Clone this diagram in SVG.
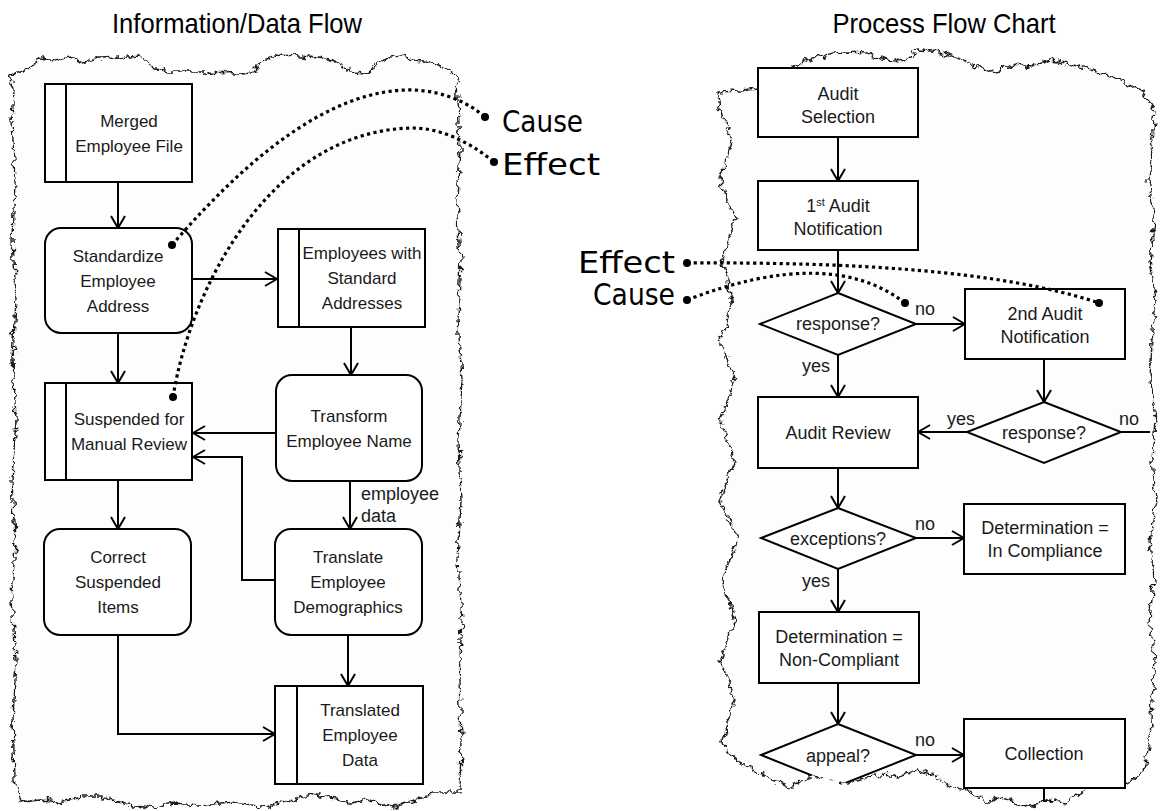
<svg xmlns="http://www.w3.org/2000/svg" width="1161" height="811" viewBox="0 0 1161 811">
  <defs>
    <style>
      .title { font-family: "Liberation Sans Narrow", "Liberation Sans", Arial, sans-serif; font-size: 28px; fill: #000; text-anchor: middle; }
      .box { fill: #fff; stroke: #000; stroke-width: 2; }
      .stripe { stroke: #000; stroke-width: 2; }
      .t { font-family: "Liberation Sans", Arial, sans-serif; font-size: 17px; fill: #1a1a1a; text-anchor: middle; }
      .tr { font-family: "Liberation Sans", Arial, sans-serif; font-size: 18px; fill: #1a1a1a; text-anchor: middle; }
      .lbl { font-family: "Liberation Sans", Arial, sans-serif; font-size: 18px; fill: #1a1a1a; }
      .conn { fill: none; stroke: #000; stroke-width: 2; }
      .edge { fill: #fdfdfd; stroke: #1a1a1a; stroke-width: 1.4; stroke-linejoin: round; }
      .dots { fill: none; stroke: #000; stroke-width: 3.2; stroke-dasharray: 3.2 3.4; }
      .pin { fill: #000; }
      .hand { font-family: "DejaVu Sans", sans-serif; font-size: 30px; fill: #000; }
    </style>
    <marker id="arrow" markerUnits="userSpaceOnUse" markerWidth="14" markerHeight="16" viewBox="0 0 14 16" refX="13" refY="8" orient="auto">
      <path d="M1,1 L13,8 L1,15" fill="none" stroke="#000" stroke-width="2"/>
    </marker>
    <filter id="torn" x="-5%" y="-5%" width="110%" height="110%">
      <feTurbulence type="fractalNoise" baseFrequency="0.13" numOctaves="3" seed="11" result="noise"/>
      <feDisplacementMap in="SourceGraphic" in2="noise" scale="10" xChannelSelector="R" yChannelSelector="G"/>
    </filter>
    <clipPath id="right-clip">
      <path d="M718,92 L757,89 L763,80 L777,75 L797,67 L807,60 L820,57 L833,53 L847,52 L867,53 L880,58 L893,62 L907,57 L920,50 L940,52 L960,58 L977,67 L990,72 L1000,70 L1013,65 L1033,67 L1050,60 L1067,63 L1083,67 L1100,73 L1120,80 L1133,87 L1143,90 L1147,100 L1157,110 L1160,811 L1067,803 L1047,800 L1027,807 L1000,797 L987,803 L967,790 L953,787 L933,775 L917,770 L900,777 L883,775 L867,777 L847,783 L833,780 L813,775 L800,782 L790,787 L767,778 L753,770 L740,763 L727,753 L700,700 Z"/>
    </clipPath>
  </defs>

  <!-- headings -->
  <text class="title" x="237" y="33" textLength="250" lengthAdjust="spacingAndGlyphs">Information/Data Flow</text>
  <text class="title" x="944" y="33" textLength="223" lengthAdjust="spacingAndGlyphs">Process Flow Chart</text>

  <!-- torn paper panels -->
  <g id="panel-left">
    <path class="edge" filter="url(#torn)" d="M10,75 L22,73 L28,70 L33,62 L40,58 L55,60 L70,57 L85,63 L100,58 L120,57 L140,55 L147,60 L152,68 L160,70 L170,72 L200,72 L240,73 L252,72 L258,66 L265,60 L275,55 L300,56 L320,58 L335,62 L345,68 L352,72 L365,73 L372,70 L378,62 L390,58 L400,57 L415,60 L430,62 L445,68 L457,75 L458,100 L460,150 L457,200 L461,260 L458,320 L462,380 L459,440 L461,500 L458,560 L462,620 L459,680 L461,740 L460,793 L433,793 L417,800 L393,807 L367,800 L350,803 L327,797 L310,793 L293,800 L267,807 L233,802 L200,805 L173,803 L150,808 L127,805 L100,797 L83,797 L60,802 L40,800 L20,802 L15,780 L13,720 L16,660 L12,600 L15,540 L12,480 L16,420 L13,360 L16,300 L13,240 L15,180 L12,120 L14,90 Z"/>
  </g>
  <g id="panel-right">
    <path class="edge" filter="url(#torn)" d="M718,92 L740,91 L757,89 L763,80 L777,75 L797,67 L807,60 L820,57 L833,53 L847,52 L867,53 L880,58 L893,62 L907,57 L920,50 L940,52 L960,58 L977,67 L990,72 L1000,70 L1013,65 L1033,67 L1050,60 L1067,63 L1083,67 L1100,73 L1120,80 L1133,87 L1143,90 L1147,100 L1155,110 L1152,140 L1148,180 L1155,220 L1150,260 L1156,300 L1152,340 L1150,380 L1155,420 L1152,460 L1156,500 L1150,540 L1154,580 L1150,620 L1155,660 L1152,700 L1150,740 L1143,773 L1127,783 L1100,787 L1083,790 L1067,803 L1047,800 L1027,807 L1000,797 L987,803 L967,790 L953,787 L933,775 L917,770 L900,777 L883,775 L867,777 L847,783 L833,780 L813,775 L800,782 L790,787 L767,778 L753,770 L740,763 L727,753 L722,740 L735,700 L720,660 L735,620 L722,580 L738,540 L720,500 L735,460 L720,420 L735,380 L720,340 L732,300 L722,260 L735,220 L720,180 L732,140 L720,110 Z"/>
  </g>

  <!-- connectors -->
  <g id="connectors">
    <!-- information / data flow -->
    <path class="conn" marker-end="url(#arrow)" d="M118,182 V228"/>
    <path class="conn" marker-end="url(#arrow)" d="M192,279 H277"/>
    <path class="conn" marker-end="url(#arrow)" d="M118,333 V383"/>
    <path class="conn" marker-end="url(#arrow)" d="M351,327 V375"/>
    <path class="conn" marker-end="url(#arrow)" d="M276,433 H193"/>
    <path class="conn" marker-end="url(#arrow)" d="M275,580 H242 V457 H193"/>
    <path class="conn" marker-end="url(#arrow)" d="M118,480 V529"/>
    <path class="conn" marker-end="url(#arrow)" d="M350,481 V529"/>
    <path class="conn" marker-end="url(#arrow)" d="M348,635 V686"/>
    <path class="conn" marker-end="url(#arrow)" d="M118,635 V734 H275"/>
    <text class="lbl" x="361" y="500" font-size="17">employee</text>
    <text class="lbl" x="361" y="522" font-size="17">data</text>

    <!-- process flow -->
    <path class="conn" marker-end="url(#arrow)" d="M838,137 V181"/>
    <path class="conn" marker-end="url(#arrow)" d="M838,250 V293"/>
    <path class="conn" marker-end="url(#arrow)" d="M916,324 H965"/>
    <path class="conn" marker-end="url(#arrow)" d="M838,355 V397"/>
    <path class="conn" marker-end="url(#arrow)" d="M1044,359 V402"/>
    <path class="conn" marker-end="url(#arrow)" d="M967,432 H918"/>
    <path class="conn" d="M1121,432 H1150"/>
    <path class="conn" marker-end="url(#arrow)" d="M838,468 V508"/>
    <path class="conn" marker-end="url(#arrow)" d="M916,538 H964"/>
    <path class="conn" marker-end="url(#arrow)" d="M838,569 V612"/>
    <path class="conn" marker-end="url(#arrow)" d="M838,683 V724"/>
    <path class="conn" marker-end="url(#arrow)" d="M916,755 H964"/>
    <path class="conn" d="M1044,788 V802"/>
    <text class="lbl" x="915" y="315">no</text>
    <text class="lbl" x="802" y="372">yes</text>
    <text class="lbl" x="947" y="425">yes</text>
    <text class="lbl" x="1119" y="425">no</text>
    <text class="lbl" x="915" y="530">no</text>
    <text class="lbl" x="802" y="587">yes</text>
    <text class="lbl" x="915" y="746">no</text>
  </g>

  <!-- information / data flow nodes -->
  <g id="merged-employee-file">
    <rect class="box" x="45" y="84" width="147" height="98"/>
    <line class="stripe" x1="66" y1="84" x2="66" y2="182"/>
    <text class="t" x="129" y="127">Merged</text>
    <text class="t" x="129" y="152">Employee File</text>
  </g>
  <g id="standardize-address">
    <rect class="box" x="45" y="228" width="147" height="105" rx="16"/>
    <text class="t" x="118" y="262">Standardize</text>
    <text class="t" x="118" y="287">Employee</text>
    <text class="t" x="118" y="312">Address</text>
  </g>
  <g id="standard-addresses">
    <rect class="box" x="278" y="229" width="147" height="98"/>
    <line class="stripe" x1="299" y1="229" x2="299" y2="327"/>
    <text class="t" x="362" y="259">Employees with</text>
    <text class="t" x="362" y="284">Standard</text>
    <text class="t" x="362" y="309">Addresses</text>
  </g>
  <g id="transform-name">
    <rect class="box" x="276" y="375" width="146" height="106" rx="16"/>
    <text class="t" x="349" y="422">Transform</text>
    <text class="t" x="349" y="447">Employee Name</text>
  </g>
  <g id="suspended">
    <rect class="box" x="45" y="383" width="147" height="97"/>
    <line class="stripe" x1="66" y1="383" x2="66" y2="480"/>
    <text class="t" x="129" y="425">Suspended for</text>
    <text class="t" x="129" y="450">Manual Review</text>
  </g>
  <g id="correct-suspended">
    <rect class="box" x="44" y="529" width="147" height="106" rx="16"/>
    <text class="t" x="118" y="563">Correct</text>
    <text class="t" x="118" y="588">Suspended</text>
    <text class="t" x="118" y="613">Items</text>
  </g>
  <g id="translate-demographics">
    <rect class="box" x="275" y="529" width="147" height="106" rx="16"/>
    <text class="t" x="348" y="563">Translate</text>
    <text class="t" x="348" y="588">Employee</text>
    <text class="t" x="348" y="613">Demographics</text>
  </g>
  <g id="translated-data">
    <rect class="box" x="275" y="686" width="148" height="98"/>
    <line class="stripe" x1="297" y1="686" x2="297" y2="784"/>
    <text class="t" x="360" y="716">Translated</text>
    <text class="t" x="360" y="741">Employee</text>
    <text class="t" x="360" y="766">Data</text>
  </g>

  <!-- process flow nodes -->
  <g id="audit-selection">
    <rect class="box" x="758" y="68" width="160" height="69"/>
    <text class="tr" x="838" y="100">Audit</text>
    <text class="tr" x="838" y="123">Selection</text>
  </g>
  <g id="first-notification">
    <rect class="box" x="758" y="181" width="160" height="69"/>
    <text class="tr" x="838" y="212">1<tspan font-size="11" dy="-6">st</tspan><tspan dy="6"> Audit</tspan></text>
    <text class="tr" x="838" y="235">Notification</text>
  </g>
  <g id="response-1">
    <polygon class="box" points="838,293 916,324 838,355 760,324"/>
    <text class="tr" x="838" y="330">response?</text>
  </g>
  <g id="second-notification">
    <rect class="box" x="965" y="289" width="160" height="70"/>
    <text class="tr" x="1045" y="320">2nd Audit</text>
    <text class="tr" x="1045" y="343">Notification</text>
  </g>
  <g id="response-2">
    <polygon class="box" points="1044,402 1121,432 1044,463 967,432"/>
    <text class="tr" x="1044" y="439">response?</text>
  </g>
  <g id="audit-review">
    <rect class="box" x="758" y="397" width="160" height="71"/>
    <text class="tr" x="838" y="439">Audit Review</text>
  </g>
  <g id="exceptions">
    <polygon class="box" points="838,508 916,538 838,569 761,538"/>
    <text class="tr" x="838" y="545">exceptions?</text>
  </g>
  <g id="in-compliance">
    <rect class="box" x="964" y="504" width="161" height="70"/>
    <text class="tr" x="1045" y="534">Determination =</text>
    <text class="tr" x="1045" y="557">In Compliance</text>
  </g>
  <g id="non-compliant">
    <rect class="box" x="759" y="612" width="160" height="71"/>
    <text class="tr" x="839" y="643">Determination =</text>
    <text class="tr" x="839" y="666">Non-Compliant</text>
  </g>
  <g id="appeal">
    <polygon class="box" clip-path="url(#right-clip)" points="838,724 916,755 838,786 761,755"/>
    <text class="tr" x="838" y="762">appeal?</text>
  </g>
  <g id="collection">
    <rect class="box" x="964" y="719" width="161" height="69"/>
    <text class="tr" x="1044" y="760">Collection</text>
  </g>

  <!-- cause / effect call-outs -->
  <g id="callouts">
    <path class="dots" d="M172,245 C245,160 330,88 413,90 C445,91 470,104 485,117"/>
    <path class="dots" d="M173,397 C190,290 270,130 413,128 C440,128 470,142 494,162"/>
    <path class="dots" d="M687,263 C850,262 1000,270 1099,303"/>
    <path class="dots" d="M687,300 Q830,245 905,303"/>
    <circle class="pin" cx="172" cy="245" r="4"/>
    <circle class="pin" cx="485" cy="117" r="4"/>
    <circle class="pin" cx="173" cy="397" r="4"/>
    <circle class="pin" cx="494" cy="162" r="4"/>
    <circle class="pin" cx="687" cy="263" r="4"/>
    <circle class="pin" cx="1099" cy="303" r="4"/>
    <circle class="pin" cx="687" cy="300" r="4"/>
    <circle class="pin" cx="905" cy="303" r="4"/>
    <text class="hand" x="502" y="132" textLength="81" lengthAdjust="spacingAndGlyphs">Cause</text>
    <text class="hand" x="502" y="175" textLength="98" lengthAdjust="spacingAndGlyphs">Effect</text>
    <text class="hand" x="578" y="273" textLength="97" lengthAdjust="spacingAndGlyphs">Effect</text>
    <text class="hand" x="593" y="305" textLength="82" lengthAdjust="spacingAndGlyphs">Cause</text>
  </g>
</svg>
